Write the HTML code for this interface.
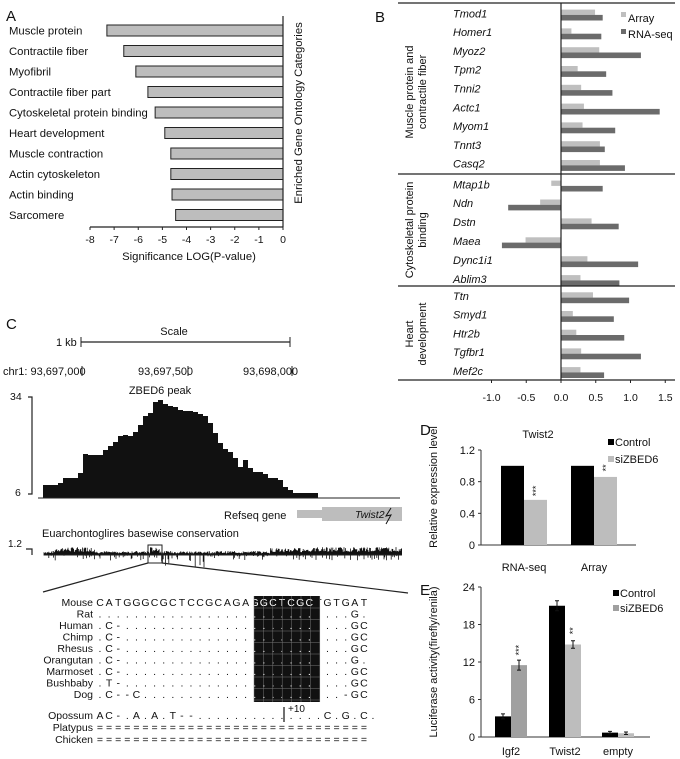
<!DOCTYPE html>
<html><head><meta charset="utf-8"><style>
html,body{margin:0;padding:0;background:#fff}
svg{display:block;font-family:"Liberation Sans",Arial,sans-serif}
text{fill:#111}
</style></head><body>
<svg id="fig" width="680" height="759" viewBox="0 0 680 759" xmlns="http://www.w3.org/2000/svg">
<g id="pA"></g>
<g id="pB"></g>
<g id="pC"></g>
<g id="pD"></g>
<g id="pE"></g>
</svg>
<script>
// ---- Panel A data
const goCategories = ["Muscle protein","Contractile fiber","Myofibril","Contractile fiber part","Cytoskeletal protein binding","Heart development","Muscle contraction","Actin cytoskeleton","Actin binding","Sarcomere"];
const goLogP = [-7.3,-6.6,-6.1,-5.6,-5.3,-4.9,-4.65,-4.65,-4.6,-4.45];
const aTicks = [-8,-7,-6,-5,-4,-3,-2,-1,0];
// ---- Panel B data
const bGenes = ["Tmod1","Homer1","Myoz2","Tpm2","Tnni2","Actc1","Myom1","Tnnt3","Casq2","Mtap1b","Ndn","Dstn","Maea","Dync1i1","Ablim3","Ttn","Smyd1","Htr2b","Tgfbr1","Mef2c"];
const bArray = [0.49,0.15,0.55,0.24,0.29,0.33,0.31,0.56,0.56,-0.14,-0.3,0.44,-0.51,0.38,0.28,0.46,0.17,0.22,0.29,0.28];
const bRnaseq = [0.6,0.58,1.15,0.65,0.74,1.42,0.78,0.63,0.92,0.6,-0.76,0.83,-0.85,1.11,0.84,0.98,0.76,0.91,1.15,0.62];
const bTicks = [-1.0,-0.5,0.0,0.5,1.0,1.5];
// ---- Panel C data
const peakHeights = [13,13,13,15,20,20,20,25,44,43,43,43,48,52,56,62,63,62,66,73,82,85,96,98,94,92,91,88,87,87,86,84,82,75,65,55,49,46,40,31,38,30,26,26,24,20,20,18,11,8,5,5,5,5,5];
// ---- Panel D data
const dCategories = ["RNA-seq","Array"];
const dControl = [1.0,1.0];
const dSi = [0.57,0.86];
const dStars = ["***","**"];
const dTicks = [0,0.4,0.8,1.2];
// ---- Panel E data
const eCategories = ["Igf2","Twist2","empty"];
const eControl = [3.3,21.0,0.7];
const eControlErr = [0.4,0.8,0.2];
const eSi = [11.5,14.8,0.6];
const eSiErr = [0.8,0.6,0.2];
const eStars = ["***","**",""];
const eTicks = [0,6,12,18,24];

const NS="http://www.w3.org/2000/svg";
function mk(parent,tag,attrs,txt){const e=document.createElementNS(NS,tag);for(const k in attrs)e.setAttribute(k,attrs[k]);if(txt!==undefined)e.textContent=txt;parent.appendChild(e);return e;}

// ================= Panel A
(function(){
const g=document.getElementById('pA');
const x0=283,x8=90; const sx=v=>x0+(v/8)*(x0-x8);
let t=mk(g,'text',{x:6,y:21,'font-size':15});t.textContent='A';


goCategories.forEach((c,i)=>{
 const cy=30.5+i*20.5;
 const r=mk(g,'rect',{x:sx(goLogP[i]),y:cy-5.5,width:x0-sx(goLogP[i]),height:11,fill:'#bdbdbd',stroke:'#222','stroke-width':1});
 
 
 const l=mk(g,'text',{x:9,y:cy+4,'font-size':11.3},c);
 
 
});
mk(g,'line',{x1:x0,y1:16,x2:x0,y2:227,stroke:'#222','stroke-width':1.2});
mk(g,'line',{x1:x8,y1:227,x2:x0,y2:227,stroke:'#222','stroke-width':1.2});
aTicks.forEach(v=>{
 mk(g,'line',{x1:sx(v),y1:227,x2:sx(v),y2:230,stroke:'#222'});
 const tl=mk(g,'text',{x:sx(v),y:243,'font-size':10.5,'text-anchor':'middle'},String(v));
 
 
});
const xt=mk(g,'text',{x:189,y:260,'font-size':11.3,'text-anchor':'middle'},'Significance  LOG(P-value)');


const yt=mk(g,'text',{x:0,y:0,'font-size':11.3,'text-anchor':'middle',transform:'translate(302,113) rotate(-90)'},'Enriched Gene Ontology Categories');


})();

// ================= Panel B
(function(){
const g=document.getElementById('pB');
const z=561, k=69.5; const sx=v=>z+v*k;
mk(g,'text',{x:375,y:22,'font-size':15},'B');
const rowsY=[];
for(let i=0;i<9;i++)rowsY.push(13.3+i*18.8);
for(let i=0;i<6;i++)rowsY.push(184.3+i*18.9);
for(let i=0;i<5;i++)rowsY.push(296+i*18.7);
bGenes.forEach((gn,i)=>{
 const c=rowsY[i];
 const t=mk(g,'text',{x:453,y:c+4,'font-size':11,'font-style':'italic'},gn);
 
 
 const a=bArray[i],r=bRnaseq[i];
 const ra=mk(g,'rect',{x:Math.min(sx(0),sx(a)),y:c-3.7,width:Math.abs(sx(a)-sx(0)),height:5.3,fill:'#bfbfbf'});
 
 
 const rr=mk(g,'rect',{x:Math.min(sx(0),sx(r)),y:c+1.6,width:Math.abs(sx(r)-sx(0)),height:5.6,fill:'#6b6b6b'});
 
 
});
[3,174,286,380].forEach(y=>mk(g,'line',{x1:398,y1:y,x2:675,y2:y,stroke:'#222','stroke-width':1.2}));
mk(g,'line',{x1:z,y1:3,x2:z,y2:380,stroke:'#222','stroke-width':1.2});
bTicks.forEach(v=>{
 mk(g,'line',{x1:sx(v),y1:380,x2:sx(v),y2:383,stroke:'#222'});
 const tl=mk(g,'text',{x:sx(v),y:401,'font-size':10.5,'text-anchor':'middle'},v.toFixed(1));
 
 
});
const lg1=mk(g,'rect',{x:621,y:12,width:5,height:5,fill:'#bfbfbf'});


mk(g,'text',{x:628,y:22,'font-size':11},'Array');
const lg2=mk(g,'rect',{x:621,y:29,width:5,height:5,fill:'#6b6b6b'});


mk(g,'text',{x:628,y:38,'font-size':11},'RNA-seq');
function vlab(x,y,lines){const t=mk(g,'text',{'font-size':11,'text-anchor':'middle',transform:`translate(${x},${y}) rotate(-90)`});lines.forEach((l,i)=>{mk(t,'tspan',{x:0,dy:i?13:0},l);});}
vlab(413,92,['Muscle protein and','contractile fiber']);
vlab(413,230,['Cytoskeletal protein','binding']);
vlab(413,334,['Heart','development']);
})();

// ================= Panel C
(function(){
const g=document.getElementById('pC');
mk(g,'text',{x:6,y:329,'font-size':15},'C');
mk(g,'text',{x:174,y:335,'font-size':11,'text-anchor':'middle'},'Scale');
mk(g,'text',{x:56,y:346,'font-size':11},'1 kb');
mk(g,'line',{x1:81,y1:342,x2:290,y2:342,stroke:'#222','stroke-width':1.2});
mk(g,'line',{x1:81,y1:337,x2:81,y2:347,stroke:'#222'});
mk(g,'line',{x1:290,y1:337,x2:290,y2:347,stroke:'#222'});
mk(g,'text',{x:3,y:375,'font-size':11},'chr1:  93,697,000');
mk(g,'text',{x:138,y:375,'font-size':11},'93,697,500');
mk(g,'text',{x:243,y:375,'font-size':11},'93,698,000');
[82,188,292].forEach(x=>mk(g,'line',{x1:x,y1:366,x2:x,y2:376,stroke:'#222'}));
mk(g,'text',{x:160,y:394,'font-size':11,'text-anchor':'middle'},'ZBED6 peak');
mk(g,'text',{x:10,y:400,'font-size':10.5},'34');
mk(g,'text',{x:15,y:496,'font-size':10.5},'6');
mk(g,'path',{d:'M28 397 H32 V494 H28',fill:'none',stroke:'#222','stroke-width':1.2});
let d='M43 498';
peakHeights.forEach((h,i)=>{const x=43+i*5;d+=` V${498-h} H${x+5}`;});
d+=' V498 Z';
const pk=mk(g,'path',{d:d,fill:'#111'});


mk(g,'line',{x1:38,y1:498,x2:400,y2:498,stroke:'#222','stroke-width':1});
mk(g,'text',{x:224,y:519,'font-size':11},'Refseq gene');
mk(g,'rect',{x:297,y:510,width:26,height:8,fill:'#bdbdbd'});
const gb=mk(g,'rect',{x:322,y:507,width:80,height:14,fill:'#bdbdbd'});


mk(g,'text',{x:355,y:518,'font-size':10.5,'font-style':'italic'},'Twist2');
mk(g,'path',{d:'M391 508 L386 516 L391 515 L386 524',fill:'none',stroke:'#111','stroke-width':1});
mk(g,'text',{x:42,y:537,'font-size':11},'Euarchontoglires basewise conservation');
mk(g,'text',{x:8,y:547,'font-size':10},'1.2');
mk(g,'path',{d:'M26 549 H32 V555',fill:'none',stroke:'#222','stroke-width':1.2});
// conservation track (texture)
let cp='';let s=7;
const rnd=()=>{s=(s*9301+49297)%233280;return s/233280;};
for(let x=44;x<402;x+=0.8){
 let amp=4;
 if((x>55&&x<95)||(x>150&&x<160))amp=8;
 if(x>270)amp=7;
 if(x>315)amp=8;
 const up=amp*(0.4+0.6*rnd()), dn=rnd()<0.2?rnd()*(x>160&&x<205?12:5):0;
 cp+=`M${x.toFixed(1)} ${(555-up).toFixed(1)} V${(555+dn+0.5).toFixed(1)} `;
}
const ct=mk(g,'path',{d:cp,stroke:'#111','stroke-width':0.8,fill:'none'});


mk(g,'line',{x1:44,y1:555,x2:402,y2:555,stroke:'#333','stroke-width':0.6});
mk(g,'rect',{x:148,y:545,width:14,height:18,fill:'none',stroke:'#222','stroke-width':1});
mk(g,'line',{x1:148,y1:563,x2:43,y2:592,stroke:'#222','stroke-width':1.2});
mk(g,'line',{x1:162,y1:563,x2:408,y2:593,stroke:'#222','stroke-width':1.2});
// alignment
const species=["Mouse","Rat","Human","Chimp","Rhesus","Orangutan","Marmoset","Bushbaby","Dog","Opossum","Platypus","Chicken"];
const seqs=["CATGGGCGCTCCGCAGAGGCTCGCTGTGAT",
"............................G.",
".C-.........................GC",
".C-.........................GC",
".C-.........................GC",
".C-.........................G.",
".C-.........................GC",
".T-.........................GC",
".C--C......................-GC",
"AC-.A.A.T--..............C.G.C.",
"==============================",
"=============================="];
const ys=[606,617.5,629,640.5,652,663.5,675,686.5,698,719,731,743];
mk(g,'rect',{x:254,y:596,width:66,height:106,fill:'#111'});
species.forEach((sp,i)=>{
 const t=mk(g,'text',{x:93,y:ys[i],'font-size':10.5,'text-anchor':'end'},sp);
 
 
 const str=seqs[i];
 for(let j=0;j<str.length;j++){
  const inBox=i<9&&j>=17&&j<=23;
  mk(g,'text',{x:100+j*9.1,y:ys[i],'font-size':10.5,'text-anchor':'middle',style:inBox?'fill:#fff':''},str[j]);
 }
});
for(let j=0;j<=7;j++)mk(g,'line',{x1:254+j*9.4,y1:596,x2:254+j*9.4,y2:702,stroke:'#777','stroke-width':0.5});
for(let i=0;i<9;i++)mk(g,'line',{x1:254,y1:608+i*11.5,x2:320,y2:608+i*11.5,stroke:'#777','stroke-width':0.5});
mk(g,'line',{x1:284,y1:707,x2:284,y2:722,stroke:'#111','stroke-width':1.2});
mk(g,'text',{x:288,y:712,'font-size':10},'+10');
})();

// ================= Panel D
(function(){
const g=document.getElementById('pD');
mk(g,'text',{x:420,y:435,'font-size':15},'D');
mk(g,'text',{x:538,y:438,'font-size':11,'text-anchor':'middle'},'Twist2');
const ax=481,y0=545,y1=450; const sy=v=>y0-(v/1.2)*(y0-y1);
dTicks.forEach(v=>{
 mk(g,'line',{x1:ax-3,y1:sy(v),x2:ax,y2:sy(v),stroke:'#333'});
 const t=mk(g,'text',{x:ax-6,y:sy(v)+4,'font-size':11,'text-anchor':'end'},String(v));
 
 
});
mk(g,'line',{x1:ax,y1:y1,x2:ax,y2:y0,stroke:'#333'});
mk(g,'line',{x1:ax,y1:y0,x2:636,y2:y0,stroke:'#333'});
const centers=[524,594];
dCategories.forEach((c,i)=>{
 const cx=centers[i];
 const r1=mk(g,'rect',{x:cx-23,y:sy(dControl[i]),width:23,height:y0-sy(dControl[i]),fill:'#000'});
 
 
 const r2=mk(g,'rect',{x:cx,y:sy(dSi[i]),width:23,height:y0-sy(dSi[i]),fill:'#bdbdbd'});
 
 
 mk(g,'text',{'font-size':9,'text-anchor':'middle',transform:`translate(${cx+15},${sy(dSi[i])-9}) rotate(-90)`},dStars[i]);
 const t=mk(g,'text',{x:cx,y:571,'font-size':11,'text-anchor':'middle'},c);
 
 
});
mk(g,'text',{'font-size':11,'text-anchor':'middle',transform:'translate(437,487) rotate(-90)'},'Relative expression level');
mk(g,'rect',{x:608,y:439,width:6,height:6,fill:'#000'});
mk(g,'text',{x:615,y:446,'font-size':11},'Control');
mk(g,'rect',{x:608,y:456,width:6,height:6,fill:'#bdbdbd'});
mk(g,'text',{x:615,y:463,'font-size':11},'siZBED6');
})();

// ================= Panel E
(function(){
const g=document.getElementById('pE');
mk(g,'text',{x:420,y:595,'font-size':15},'E');
const ax=481,y0=737,y1=587; const sy=v=>y0-(v/24)*(y0-y1);
eTicks.forEach(v=>{
 mk(g,'line',{x1:ax-3,y1:sy(v),x2:ax,y2:sy(v),stroke:'#333'});
 const t=mk(g,'text',{x:ax-6,y:sy(v)+4,'font-size':11,'text-anchor':'end'},String(v));
 
 
});
mk(g,'line',{x1:ax,y1:y1,x2:ax,y2:y0,stroke:'#333'});
mk(g,'line',{x1:ax,y1:y0,x2:650,y2:y0,stroke:'#333'});
const centers=[511,565,618];
const siCols=['#a0a0a0','#bdbdbd','#bdbdbd'];
function err(x,v,e){mk(g,'path',{d:`M${x} ${sy(v+e)} V${sy(v-e)} M${x-2} ${sy(v+e)} H${x+2} M${x-2} ${sy(v-e)} H${x+2}`,stroke:'#111','stroke-width':1,fill:'none'});}
eCategories.forEach((c,i)=>{
 const cx=centers[i];
 const r1=mk(g,'rect',{x:cx-16,y:sy(eControl[i]),width:16,height:y0-sy(eControl[i]),fill:'#000'});
 
 
 const r2=mk(g,'rect',{x:cx,y:sy(eSi[i]),width:16,height:y0-sy(eSi[i]),fill:siCols[i]});
 
 
 err(cx-8,eControl[i],eControlErr[i]);
 err(cx+8,eSi[i],eSiErr[i]);
 if(eStars[i])mk(g,'text',{'font-size':9,'text-anchor':'middle',transform:`translate(${cx+11},${sy(eSi[i]+eSiErr[i])-10}) rotate(-90)`},eStars[i]);
 const t=mk(g,'text',{x:cx,y:755,'font-size':11,'text-anchor':'middle'},c);
 
 
});
mk(g,'text',{'font-size':11,'text-anchor':'middle',transform:'translate(437,662) rotate(-90)'},'Luciferase activity(firefly/renila)');
mk(g,'rect',{x:613,y:590,width:6,height:6,fill:'#000'});
mk(g,'text',{x:620,y:597,'font-size':11},'Control');
mk(g,'rect',{x:613,y:605,width:6,height:6,fill:'#a0a0a0'});
mk(g,'text',{x:620,y:612,'font-size':11},'siZBED6');
})();
</script>
</body></html>
